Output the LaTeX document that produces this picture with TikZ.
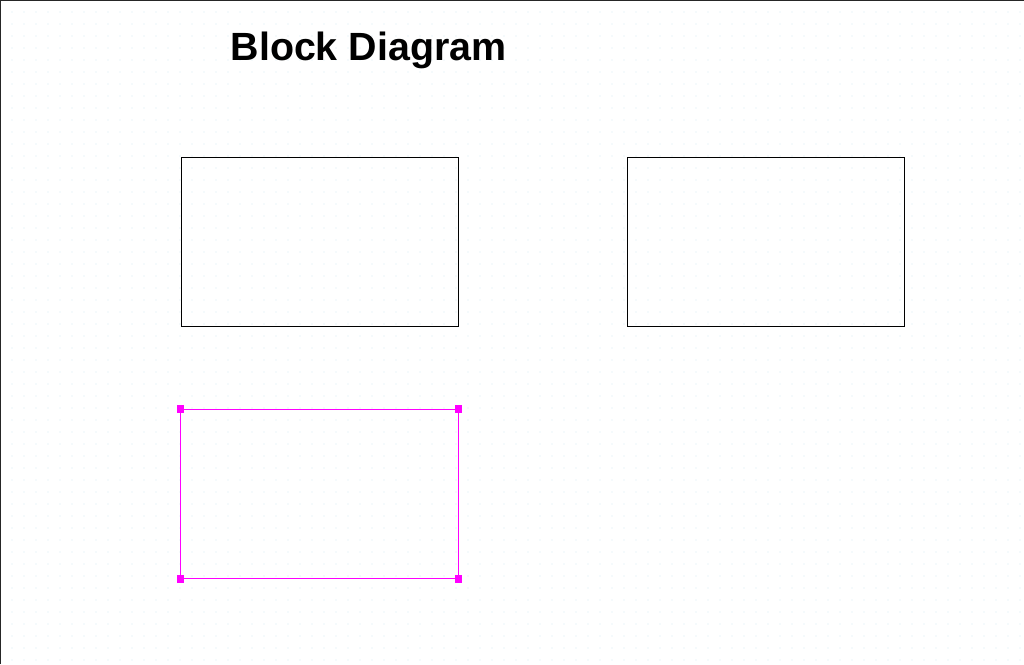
\documentclass[tikz,border=0pt]{standalone}
\usepackage{fontspec}
\setmainfont{Liberation Sans}
\usetikzlibrary{positioning}
\definecolor{griddot}{RGB}{215,235,245}
\definecolor{selpink}{RGB}{255,0,255}
\tikzset{
  blk/.style={draw=black,line width=0.4pt,minimum width=6.925cm,minimum height=4.225cm,inner sep=0pt},
  selblk/.style={blk,draw=selpink,line width=0.7pt},
  handle/.style={fill=selpink,minimum size=0.19cm,inner sep=0pt}
}
\begin{document}
\begin{tikzpicture}[x=0.025cm,y=-0.025cm]
\useasboundingbox (0,0) rectangle (1024,664);
\fill[white] (0,0) rectangle (1024,664);
% dotted grid
\foreach \x in {12,24,...,1020}{
\foreach \y in {12,24,...,660}{
\fill[griddot] (\x,\y) circle (0.6);
}
}
\draw[line width=1pt,black!85] (0.5,664) -- (0.5,0.5) -- (1024,0.5);

\node (title) at (368.5,50) [font=\fontsize{28}{32}\selectfont\bfseries] {Block Diagram};

\node (blkA) at (319.5,241.5) [blk] {};
\node (blkB) at (766,241.5) [blk] {};
\node (blkC) at (319.5,494) [selblk] {};

\foreach \c in {north west,north east,south west,south east}{
\node (h-\c) at (blkC.\c) [handle] {};
}
\end{tikzpicture}
\end{document}
